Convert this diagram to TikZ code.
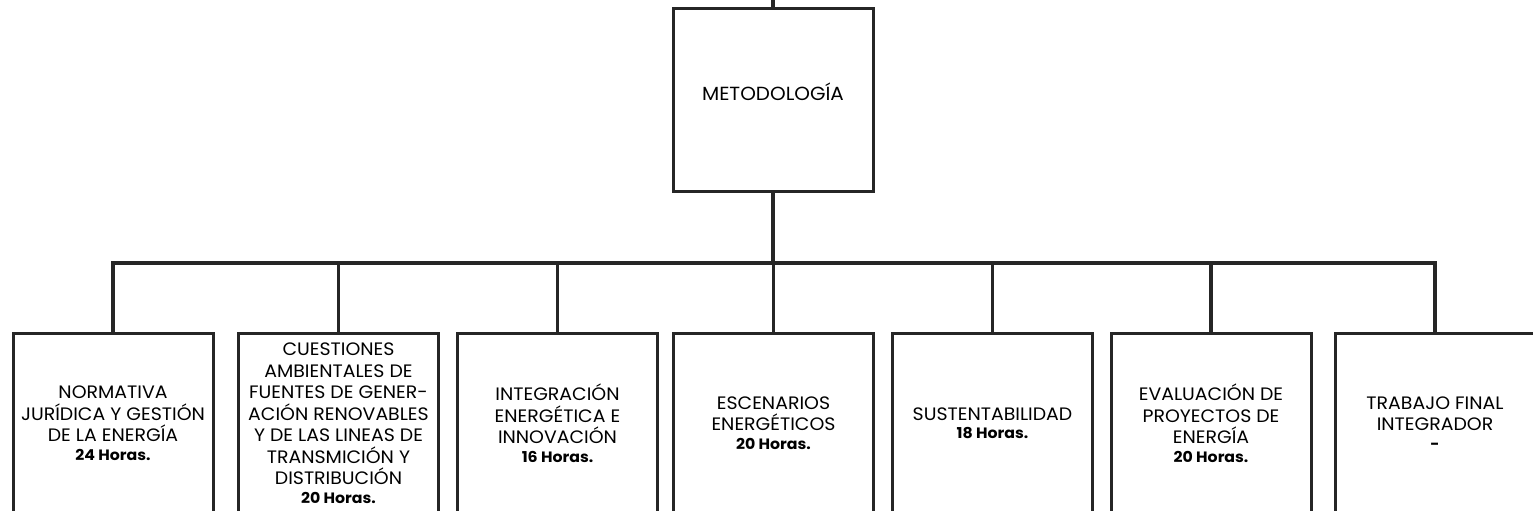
\documentclass[tikz,border=0pt]{standalone}
\usepackage{fontspec}
\setmainfont[FakeStretch=1.05]{Poppins}
\newcommand\hrsline[1]{\\[-3pt]{\fontsize{15}{18}\selectfont\bfseries #1}}
\begin{document}
\begin{tikzpicture}[x=1pt,y=-1pt,
  topbox/.style={draw=black!85, line width=3pt, minimum width=200pt, minimum height=182pt, inner sep=0pt},
  subbox/.style={draw=black!85, line width=3pt, minimum width=200pt, minimum height=180pt, inner sep=0pt,
    align=center, font=\fontsize{18}{21.5}\selectfont},
  conn/.style={draw=black!85, line width=3.2pt}]
\useasboundingbox (0,0) rectangle (1533,511);
\coordinate (in) at (773,0);
\coordinate (bus) at (773,263);
\node[topbox] (top) at (773,100) {};
\node[font=\fontsize{19}{22}\selectfont, inner sep=0pt] (toplabel) at (773,92) {METODOLOGÍA};
\node[subbox] (b1) at (113,423) {NORMATIVA\\JURÍDICA Y GESTIÓN\\DE LA ENERGÍA\hrsline{24 Horas.}};
\node[subbox] (b2) at (338.5,423) {CUESTIONES\\AMBIENTALES DE\\FUENTES DE GENER-\\ACIÓN RENOVABLES\\Y DE LAS LINEAS DE\\TRANSMICIÓN Y\\DISTRIBUCIÓN\hrsline{20 Horas.}};
\node[subbox] (b3) at (557.5,423) {INTEGRACIÓN\\ENERGÉTICA E\\INNOVACIÓN\hrsline{16 Horas.}};
\node[subbox] (b4) at (773.5,423) {ESCENARIOS\\ENERGÉTICOS\hrsline{20 Horas.}};
\node[subbox] (b5) at (992.5,423) {SUSTENTABILIDAD\hrsline{18 Horas.}};
\node[subbox] (b6) at (1211,423) {EVALUACIÓN DE\\PROYECTOS DE\\ENERGÍA\hrsline{20 Horas.}};
\node[subbox] (b7) at (1435,423) {TRABAJO FINAL\\INTEGRADOR\hrsline{-}};
\draw[conn] (in) -- (top.north);
\draw[conn] (top.south) -- (bus);
\draw[conn] (b1.north) -- (b1.north |- bus) -- (b7.north |- bus) -- (b7.north);
\foreach \b in {b2,b3,b4,b5,b6} \draw[conn] (\b.north) -- (\b.north |- bus);
\end{tikzpicture}
\end{document}
